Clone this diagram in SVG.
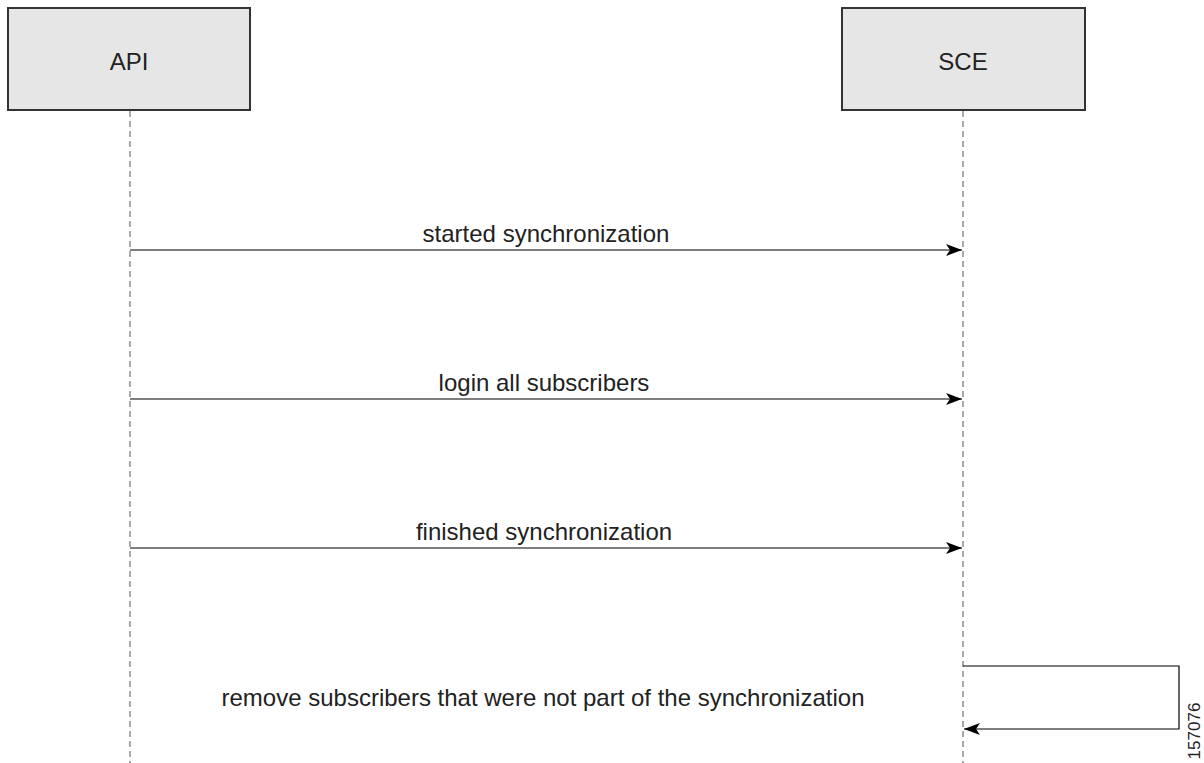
<svg xmlns="http://www.w3.org/2000/svg" width="1204" height="763" viewBox="0 0 1204 763">
<style>
.box{fill:#e6e6e6;stroke:#333;stroke-width:2}
.life{stroke:#555;stroke-width:1;stroke-dasharray:6,4;fill:none}
.msg{stroke:#000;stroke-width:1.2;fill:none}
text{font-family:"Liberation Sans",Arial,sans-serif;fill:#222}
.lbl{font-size:24px;text-anchor:middle}
</style>
<defs>
<marker id="ah" viewBox="0 0 16 12" refX="16" refY="6" markerWidth="16" markerHeight="12" markerUnits="userSpaceOnUse" orient="auto">
<path d="M0,0 L16,6 L0,12 L4,6 Z" fill="#000"/>
</marker>
</defs>
<rect width="1204" height="763" fill="#fff"/>
<g id="api">
<rect class="box" x="8" y="8" width="242" height="102"/>
<text class="lbl" x="129" y="70">API</text>
</g>
<g id="sce">
<rect class="box" x="842" y="8" width="243" height="102"/>
<text class="lbl" x="963" y="70">SCE</text>
</g>
<g id="connectors">
<line class="life" x1="130" y1="111" x2="130" y2="763"/>
<line class="life" x1="963" y1="111" x2="963" y2="763"/>
<line class="msg" x1="130" y1="250" x2="962" y2="250" marker-end="url(#ah)"/>
<line class="msg" x1="130" y1="399" x2="962" y2="399" marker-end="url(#ah)"/>
<line class="msg" x1="130" y1="548" x2="962" y2="548" marker-end="url(#ah)"/>
<polyline class="msg" points="963,666 1179,666 1179,729 964,729" marker-end="url(#ah)"/>
</g>
<g id="labels">
<text class="lbl" x="546" y="242">started synchronization</text>
<text class="lbl" x="544" y="391">login all subscribers</text>
<text class="lbl" x="544" y="540">finished synchronization</text>
<text class="lbl" x="543" y="706">remove subscribers that were not part of the synchronization</text>
<text x="1200" y="731" transform="rotate(-90 1200 731)" style="font-size:17px;text-anchor:middle">157076</text>
</g>
</svg>
